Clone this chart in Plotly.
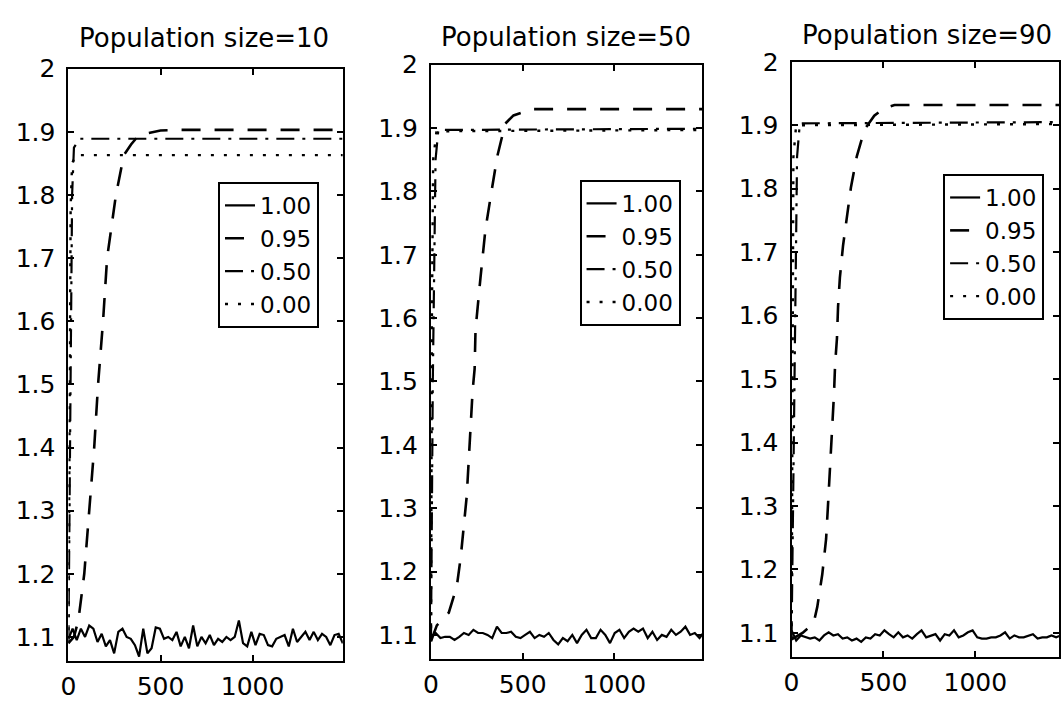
import numpy as np
import plotly.graph_objects as go

W, H = 1061, 701

titles = ["Population size=10", "Population size=50", "Population size=90"]
series_names = ["1.00", "0.95", "0.50", "0.00"]
x_tick_vals = [0, 500, 1000]
x_tick_text = ["0", "500", "1000"]
y_tick_vals = [1.1, 1.2, 1.3, 1.4, 1.5, 1.6, 1.7, 1.8, 1.9, 2.0]
y_tick_text = ["1.1", "1.2", "1.3", "1.4", "1.5", "1.6", "1.7", "1.8", "1.9", "2"]

# ---- Population size = 10 ----
p1_solid_y = [1.097, 1.113, 1.095, 1.113, 1.100, 1.118, 1.113, 1.092, 1.105, 1.085,
              1.095, 1.074, 1.108, 1.113, 1.100, 1.097, 1.087, 1.069, 1.113, 1.074,
              1.082, 1.115, 1.113, 1.097, 1.100, 1.095, 1.108, 1.085, 1.100, 1.082,
              1.118, 1.085, 1.100, 1.090, 1.103, 1.087, 1.097, 1.092, 1.100, 1.095,
              1.100, 1.126, 1.090, 1.085, 1.108, 1.087, 1.105, 1.103, 1.087, 1.085,
              1.097, 1.100, 1.103, 1.085, 1.113, 1.092, 1.100, 1.108, 1.095, 1.108,
              1.095, 1.105, 1.100, 1.087, 1.103, 1.105, 1.090]
p1_dash_x = [0, 30, 54, 86, 113, 140, 161, 188, 210, 258, 301, 340, 366, 420, 500, 600, 1490]
p1_dash_y = [1.09, 1.10, 1.126, 1.2, 1.3, 1.4, 1.5, 1.6, 1.7, 1.8, 1.863, 1.88, 1.889, 1.897, 1.902, 1.903, 1.903]
p1_dashdot_x = [0, 10, 20, 30, 60, 1490]
p1_dashdot_y = [1.09, 1.5, 1.8, 1.875, 1.889, 1.889]
p1_dot_x = [0, 6, 12, 20, 40, 1490]
p1_dot_y = [1.09, 1.5, 1.78, 1.85, 1.863, 1.863]

# ---- Population size = 50 ----
p2_solid_y = [1.097, 1.103, 1.095, 1.097, 1.097, 1.092, 1.097, 1.103, 1.100, 1.108,
              1.103, 1.103, 1.100, 1.095, 1.113, 1.103, 1.103, 1.105, 1.097, 1.095,
              1.100, 1.105, 1.095, 1.100, 1.097, 1.103, 1.092, 1.085, 1.095, 1.090,
              1.100, 1.087, 1.100, 1.108, 1.095, 1.095, 1.108, 1.100, 1.087, 1.103,
              1.108, 1.095, 1.105, 1.110, 1.105, 1.110, 1.095, 1.105, 1.092, 1.100,
              1.097, 1.108, 1.100, 1.105, 1.113, 1.100, 1.103, 1.095, 1.105]
p2_dash_x = [0, 32, 97, 141, 162, 178, 195, 205, 227, 238, 243, 270, 297, 330, 362, 405, 450, 503, 560, 1490]
p2_dash_y = [1.09, 1.115, 1.135, 1.177, 1.222, 1.273, 1.319, 1.371, 1.485, 1.52, 1.582, 1.664, 1.74, 1.80,
             1.856, 1.907, 1.92, 1.925, 1.93, 1.93]
p2_dashdot_x = [0, 10, 25, 40, 1490]
p2_dashdot_y = [1.09, 1.5, 1.85, 1.897, 1.899]
p2_dot_x = [0, 5, 12, 30, 1490]
p2_dot_y = [1.09, 1.6, 1.85, 1.895, 1.897]

# ---- Population size = 90 ----
p3_solid_y = [1.104, 1.088, 1.096, 1.093, 1.091, 1.093, 1.088, 1.096, 1.101, 1.096,
              1.098, 1.091, 1.093, 1.088, 1.091, 1.086, 1.093, 1.091, 1.098, 1.096,
              1.104, 1.098, 1.093, 1.101, 1.093, 1.096, 1.091, 1.098, 1.104, 1.093,
              1.096, 1.098, 1.088, 1.098, 1.096, 1.104, 1.093, 1.096, 1.101, 1.104,
              1.093, 1.091, 1.091, 1.093, 1.093, 1.096, 1.101, 1.091, 1.096, 1.093,
              1.093, 1.096, 1.098, 1.091, 1.093, 1.093, 1.096, 1.093, 1.096, 1.093]
p3_dash_x = [0, 60, 120, 140, 167, 188, 199, 210, 220, 231, 237, 247, 253, 263, 280, 301, 323, 355,
             398, 450, 505, 560, 1490]
p3_dash_y = [1.09, 1.10, 1.115, 1.141, 1.192, 1.248, 1.305, 1.36, 1.42, 1.477, 1.523, 1.564, 1.614,
             1.66, 1.71, 1.756, 1.802, 1.851, 1.894, 1.915, 1.927, 1.932, 1.932]
p3_dashdot_x = [0, 15, 30, 45, 1490]
p3_dashdot_y = [1.09, 1.5, 1.85, 1.903, 1.905]
p3_dot_x = [0, 5, 10, 25, 1490]
p3_dot_y = [1.09, 1.6, 1.85, 1.9, 1.902]

x_end = 1490

panels = [
    dict(solid=p1_solid_y, dash=(p1_dash_x, p1_dash_y), dashdot=(p1_dashdot_x, p1_dashdot_y),
         dot=(p1_dot_x, p1_dot_y)),
    dict(solid=p2_solid_y, dash=(p2_dash_x, p2_dash_y), dashdot=(p2_dashdot_x, p2_dashdot_y),
         dot=(p2_dot_x, p2_dot_y)),
    dict(solid=p3_solid_y, dash=(p3_dash_x, p3_dash_y), dashdot=(p3_dashdot_x, p3_dashdot_y),
         dot=(p3_dot_x, p3_dot_y)),
]

# pixel geometry of each axes box: left, right, top, bottom ; x range max
boxes = [
    (61, 338, 56, 663, 1490),
    (427, 701, 52, 661, 1480),
    (791, 1061, 49, 659, 1455),
]
legend_pos = [(212, 172), (577, 170), (944, 164)]
title_pos = [(198, 25), (563, 24), (928, 22)]

FONT = "DejaVu Sans"
styles = [
    dict(dash="solid", width=2.2),
    dict(dash="19px,14px", width=2.6),
    dict(dash="18px,8px,3px,8px", width=2.2),
    dict(dash="3px,10px", width=2.4),
]

fig = go.Figure()
layout = dict(
    width=W, height=H, margin=dict(l=0, r=0, t=0, b=0),
    paper_bgcolor="white", plot_bgcolor="white",
    font=dict(family=FONT, color="black"),
    annotations=[],
)

for i, p in enumerate(panels):
    sfx = "" if i == 0 else str(i + 1)
    xa, ya = "x" + sfx, "y" + sfx
    leg = "legend" + sfx
    solid_x = np.linspace(0, x_end, len(p["solid"]))
    data = [
        (solid_x, p["solid"]),
        p["dash"],
        p["dashdot"],
        p["dot"],
    ]
    for name, (xs, ys), st in zip(series_names, data, styles):
        fig.add_trace(go.Scatter(
            x=list(xs), y=ys, mode="lines", name=name,
            line=dict(color="black", width=st["width"], dash=st["dash"]),
            xaxis=xa, yaxis=ya, legend=leg, showlegend=True,
        ))
    l, r, t, b, xmax = boxes[i]
    common = dict(showline=True, linecolor="black", linewidth=2, mirror="ticks",
                  ticks="inside", ticklen=6, tickwidth=1.5, tickcolor="black",
                  showgrid=False, zeroline=False, tickfont=dict(size=25, family=FONT))
    layout["xaxis" + sfx] = dict(domain=[l / W, r / W], range=[0, xmax], anchor=ya,
                                 tickvals=x_tick_vals, ticktext=x_tick_text,
                                 ticklabelstandoff=2, **common)
    layout["yaxis" + sfx] = dict(domain=[1 - b / H, 1 - t / H], range=[1.062, 2.0], anchor=xa,
                                 tickvals=y_tick_vals, ticktext=y_tick_text,
                                 ticklabelstandoff=6, **common)
    lx, ly = legend_pos[i]
    layout[leg] = dict(x=lx / W, y=1 - ly / H, xanchor="left", yanchor="top",
                       bordercolor="black", borderwidth=2, bgcolor="white",
                       font=dict(size=23, family=FONT), tracegroupgap=0, itemwidth=30)
    tx, ty = title_pos[i]
    layout["annotations"].append(dict(text=titles[i], x=tx / W, y=1 - ty / H, xref="paper",
                                      yref="paper", showarrow=False, xanchor="center",
                                      yanchor="middle", font=dict(size=26, family=FONT)))

fig.update_layout(**layout)
fig.write_html("out.html")
